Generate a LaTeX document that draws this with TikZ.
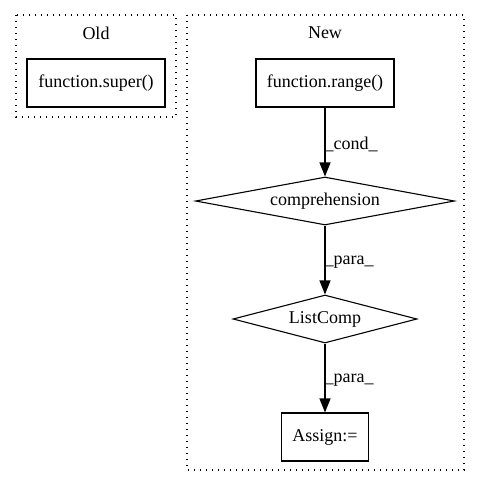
\documentclass[tikz,border=0pt]{standalone}
\usepackage{fontspec}
\setmainfont{Liberation Serif}
\usetikzlibrary{shapes.geometric,arrows.meta}
\begin{document}
\begin{tikzpicture}[x=1pt,y=-1pt,
  every node/.style={font=\fontsize{18}{20}\selectfont},
  cluster/.style={draw,line width=1.1pt,dash pattern=on 1.2pt off 4.8pt},
  boxnode/.style={draw,line width=1.1pt,rectangle,inner sep=0pt},
  diam/.style={draw,line width=1.1pt,diamond,aspect=5.4,inner sep=0pt},
  edge/.style={draw,line width=1.1pt,-{Triangle[length=14pt,width=11pt]}},
  elabel/.style={font=\fontsize{18}{20}\selectfont,inner sep=1pt}]
\useasboundingbox (0,0) rectangle (480,488);
\draw[cluster] (16,15) rectangle (176,117);
\node (oldlbl) at (96,33) {Old};
\draw[cluster] (187,15) rectangle (464,470);
\node (newlbl) at (325,33) {New};
\node[boxnode,minimum width=138pt,minimum height=48pt] (super) at (96,83) {function.super()};
\node[boxnode,minimum width=138pt,minimum height=48pt] (range) at (325,83) {function.range()};
\node[diam,minimum width=259pt,minimum height=48pt] (comp) at (325,201) {comprehension};
\node[diam,minimum width=184pt,minimum height=48pt] (lc) at (325,319) {ListComp};
\node[boxnode,minimum width=87pt,minimum height=48pt] (assign) at (325,437) {Assign:=};
\draw[edge] (range) -- (comp.north) node[pos=0.5,right,elabel,xshift=-2pt,yshift=-2pt] {\_cond\_};
\draw[edge] (comp.south) -- (lc.north) node[pos=0.5,right,elabel,xshift=-2pt,yshift=-2pt] {\_para\_};
\draw[edge] (lc.south) -- (assign) node[pos=0.5,right,elabel,xshift=-2pt,yshift=-2pt] {\_para\_};
\end{tikzpicture}
\end{document}
